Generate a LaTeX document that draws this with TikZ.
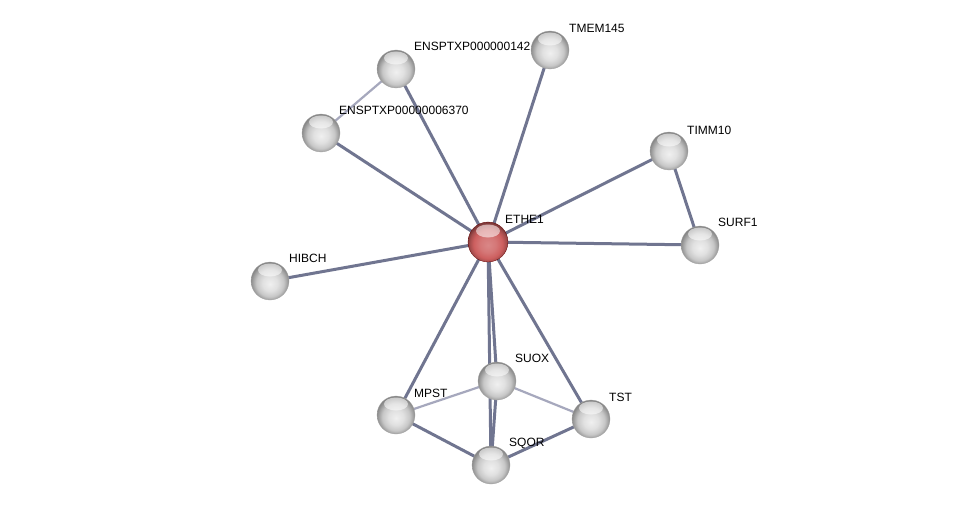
\documentclass[tikz,border=0pt]{standalone}
\usepackage{fontspec}
\setmainfont{Liberation Sans}
\definecolor{edgec}{RGB}{112,117,144}
\definecolor{ledgec}{RGB}{166,168,189}
\definecolor{redc}{RGB}{205,95,95}
\pgfdeclareradialshading{greysphere}{\pgfpoint{0bp}{-4bp}}{%
  color(0bp)=(black!6); color(10bp)=(black!12); color(18bp)=(black!22);
  color(23bp)=(black!38); color(26bp)=(black!48); color(50bp)=(black!48)}
\pgfdeclareradialshading{redsphere}{\pgfpoint{0bp}{-4bp}}{%
  color(0bp)=(redc!75!white); color(10bp)=(redc!85!white); color(18bp)=(redc);
  color(23bp)=(redc!80!black); color(26bp)=(redc!60!black); color(50bp)=(redc!60!black)}
\begin{document}
\begin{tikzpicture}[x=1pt,y=-1pt,
  prot/.style={circle,minimum size=38pt,inner sep=0pt,shading=greysphere,draw=black!35,line width=0.3pt,
    path picture={\fill[white,opacity=0.55] ([yshift=11pt]path picture bounding box.center) ellipse [x radius=12pt,y radius=6.5pt];}},
  seed/.style={prot,shading=redsphere,draw=red!40!black,minimum size=40pt},
  lbl/.style={anchor=west,inner sep=0pt,font=\fontsize{12}{14}\selectfont},
  edge/.style={draw=edgec,line width=3pt},
  ledge/.style={draw=ledgec,line width=2.2pt}]
\useasboundingbox (0,0) rectangle (975,511);
\fill[white] (0,0) rectangle (975,511);
% coordinates of node centres
\coordinate (cE) at (488,242);
\coordinate (c142) at (396,69);
\coordinate (cTM) at (550,50);
\coordinate (c637) at (321,133);
\coordinate (cTI) at (669,151);
\coordinate (cSU) at (700,245);
\coordinate (cHI) at (270,281);
\coordinate (cSX) at (497,381);
\coordinate (cMP) at (396,415);
\coordinate (cTS) at (591,419);
\coordinate (cSQ) at (491,465);
% edges
\draw[ledge] (c142) -- (c637);
\draw[ledge] (cMP) -- (cSX);
\draw[ledge] (cSX) -- (cTS);
\draw[edge] (cTI) -- (cSU);
\draw[edge] (cMP) -- (cSQ);
\draw[edge] (cSQ) -- (cTS);
\draw[edge] (cSX) -- (cSQ);
\foreach \t in {c142,cTM,c637,cTI,cSU,cHI,cSX,cMP,cTS,cSQ}
  \draw[edge] (cE) -- (\t);
% labels
\node[lbl] (lE) at (505,219) {ETHE1};
\node[lbl] (l142) at (414,46) {ENSPTXP000000142};
\node[lbl] (lTM) at (569,28) {TMEM145};
\node[lbl] (l637) at (339,110) {ENSPTXP00000006370};
\node[lbl] (lTI) at (687,130) {TIMM10};
\node[lbl] (lSU) at (718,222) {SURF1};
\node[lbl] (lHI) at (289,258) {HIBCH};
\node[lbl] (lSX) at (515,358) {SUOX};
\node[lbl] (lMP) at (414,393) {MPST};
\node[lbl] (lTS) at (609,397) {TST};
\node[lbl] (lSQ) at (509,443) {SQOR};
% nodes
\node[seed] (E) at (cE) {};
\node[prot] (n142) at (c142) {};
\node[prot] (TM) at (cTM) {};
\node[prot] (n637) at (c637) {};
\node[prot] (TI) at (cTI) {};
\node[prot] (SU) at (cSU) {};
\node[prot] (HI) at (cHI) {};
\node[prot] (SX) at (cSX) {};
\node[prot] (MP) at (cMP) {};
\node[prot] (TS) at (cTS) {};
\node[prot] (SQ) at (cSQ) {};
\end{tikzpicture}
\end{document}
